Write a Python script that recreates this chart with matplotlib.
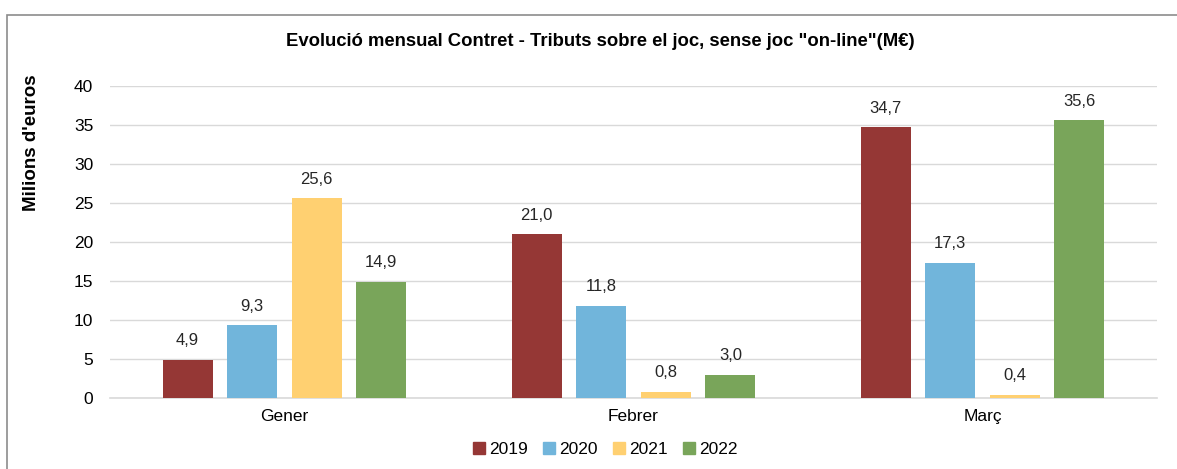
import matplotlib
matplotlib.use("Agg")
import matplotlib.pyplot as plt
from matplotlib.lines import Line2D
from matplotlib.patches import Rectangle
import numpy as np

months = ["Gener", "Febrer", "Març"]
years = ["2019", "2020", "2021", "2022"]
v2019 = [4.9, 21.0, 34.7]
v2020 = [9.3, 11.8, 17.3]
v2021 = [25.6, 0.8, 0.4]
v2022 = [14.9, 3.0, 35.6]
series = [v2019, v2020, v2021, v2022]
colors = ["#953735", "#71B5DB", "#FFD071", "#79A55A"]

plt.rcParams['font.family'] = ['Liberation Sans', 'DejaVu Sans']

W, H = 1177, 469
fig = plt.figure(figsize=(W/100, H/100), dpi=100)
fig.patches.append(Rectangle((7/W, -0.2), 1.2, 1.2 - 15/H, transform=fig.transFigure,
                             fill=False, edgecolor="#8C8C8C", linewidth=1.2))

ax = fig.add_axes([110/W, 71/H, 1047/W, 312/H])
x = np.arange(len(months))
pitch = 0.185
width = 0.143
for i, (vals, c) in enumerate(zip(series, colors)):
    pos = x + (i - 1.5) * pitch
    bars = ax.bar(pos, vals, width=width, color=c, zorder=3)
    for b, v in zip(bars, vals):
        ax.text(b.get_x() + b.get_width()/2, v + 1.5, f"{v:.1f}".replace(".", ","),
                ha="center", va="bottom", fontsize=12, color="#262626")

ax.set_xlim(-0.5, 2.5)
ax.set_ylim(0, 40)
ax.set_yticks(range(0, 41, 5))
ax.set_xticks(x)
ax.set_xticklabels(months)
ax.tick_params(axis="both", length=0, labelsize=12.5, colors="#000000")
ax.tick_params(axis="y", pad=12)
ax.tick_params(axis="x", pad=8)
ax.yaxis.grid(True, color="#D9D9D9", linewidth=1, zorder=0)
for s in ["top", "right", "left"]:
    ax.spines[s].set_visible(False)
ax.spines["bottom"].set_color("#D9D9D9")
ax.spines["bottom"].set_linewidth(1.2)

fig.text(600/W, 1 - 42/H, "Evolució mensual Contret - Tributs sobre el joc, sense joc \"on-line\"(M€)",
         ha="center", va="center", fontsize=13.3, fontweight="bold")
fig.text(32/W, 1 - 143/H, "Milions d'euros", rotation=90, ha="center", va="center",
         fontsize=13.5, fontweight="bold")

handles = [Line2D([0], [0], marker="s", linestyle="none", markersize=8,
                  markerfacecolor=c, markeredgecolor=c) for c in colors]
fig.legend(handles, years, loc="center", bbox_to_anchor=(604/W, 1 - 449/H), ncol=4,
           frameon=False, fontsize=12.5, handletextpad=0.1, columnspacing=0.7,
           handlelength=1.0)

fig.savefig("out.png", dpi=100)
